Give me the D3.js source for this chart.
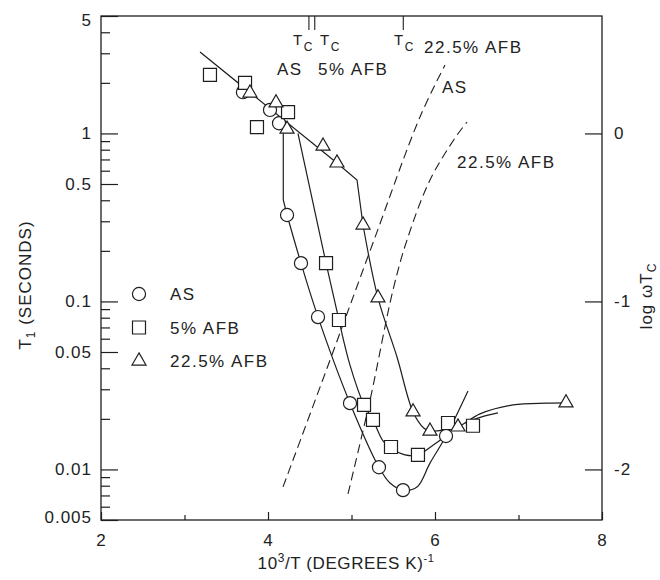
<!DOCTYPE html>
<html>
<head>
<meta charset="utf-8">
<script src="https://cdn.jsdelivr.net/npm/d3@7"></script>
<style>
  body { margin: 0; background: #fff; }
  svg text { font-family: "Liberation Sans", Arial, sans-serif; fill: #222; }
</style>
</head>
<body>
<svg id="chart"></svg>
<script>
// data: [10^3/T, T1 seconds]
const asPoints = [[3.70, 1.76], [4.024, 1.38], [4.132, 1.15], [4.228, 0.327], [4.395, 0.169],
  [4.599, 0.0807], [4.982, 0.0248], [5.329, 0.0103], [5.617, 0.00753], [6.132, 0.0158]]
const afb5Points = [[3.305, 2.23], [3.725, 2.0], [3.868, 1.09], [4.24, 1.34], [4.695, 0.169],
  [4.85, 0.0775], [5.15, 0.0242], [5.257, 0.0197], [5.473, 0.0136], [5.796, 0.0122],
  [6.156, 0.0189], [6.455, 0.0182]]
const afb22Points = [[3.784, 1.74], [4.096, 1.52], [4.228, 1.06], [4.659, 0.841], [4.826, 0.667],
  [5.138, 0.285], [5.317, 0.105], [5.737, 0.022], [5.94, 0.0169], [6.275, 0.0179], [7.569, 0.0249]]

// drawn curves through the points
const asLineUpper = [[4.183, 1.077], [4.183, 0.402], [4.228, 0.327]]
const asLineLower = [[4.228, 0.327], [4.395, 0.169], [4.599, 0.0807], [4.982, 0.0248], [5.329, 0.0103],
  [5.461, 0.0083], [5.617, 0.00753], [5.784, 0.00786], [5.94, 0.0109], [6.132, 0.0158], [6.395, 0.0293]]
const afb5LineUpper = [[4.359, 1.0], [4.695, 0.169], [4.85, 0.0775]]
const afb5LineLower = [[4.85, 0.0775], [4.982, 0.0418], [5.15, 0.0242], [5.257, 0.0197], [5.377, 0.0148],
  [5.473, 0.0134], [5.641, 0.0122], [5.796, 0.0122], [5.964, 0.0138], [6.132, 0.0158]]
const afb5Tail = [[6.359, 0.0189], [6.55, 0.0205], [6.754, 0.0217]]
const afb22LineUpper = [[3.186, 3.05], [4.826, 0.667], [5.066, 0.528], [5.138, 0.285]]
const afb22LineLower = [[5.138, 0.285], [5.317, 0.105], [5.545, 0.0467], [5.737, 0.022], [5.868, 0.0176],
  [5.94, 0.0169], [6.12, 0.0172], [6.275, 0.0179], [6.539, 0.0214], [6.934, 0.0242], [7.341, 0.0248],
  [7.569, 0.0249]]

// dashed log(omega tau_c) curves: [10^3/T, log wTc]
const asDashed = [[4.18, -2.104], [4.743, -1.349], [5.257, -0.652], [5.82, 0.098], [6.12, 0.407]]
const afb22Dashed = [[4.958, -2.146], [5.222, -1.587], [5.497, -0.932], [5.665, -0.634], [5.94, -0.277],
  [6.24, -0.027], [6.383, 0.068]]

const tcValues = [4.49, 4.56, 5.62]
const xTickValues = [2, 3, 4, 5, 6, 7, 8]
const xTickLabels = [2, 4, 6, 8]
const yTickLabels = [0.005, 0.01, 0.05, 0.1, 0.5, 1, 5]
const rTickValues = [0, -1, -2]

const dimensions = {
  width: 660,
  height: 580,
  margin: { top: 16, bottom: 60, right: 58, left: 101 },
}
dimensions.boundedWidth = dimensions.width - dimensions.margin.left - dimensions.margin.right
dimensions.boundedHeight = dimensions.height - dimensions.margin.top - dimensions.margin.bottom

const wrapper = d3.select("#chart")
  .attr("width", dimensions.width)
  .attr("height", dimensions.height)

const bounds = wrapper.append("g")
  .attr("transform", `translate(${dimensions.margin.left},${dimensions.margin.top})`)

const xScale = d3.scaleLinear().domain([2, 8]).range([0, dimensions.boundedWidth])
const yScale = d3.scaleLog().domain([0.005, 5]).range([dimensions.boundedHeight, 0])
const rScale = d3.scaleLinear().domain([Math.log10(0.005), Math.log10(5)]).range([dimensions.boundedHeight, 0])

const ink = "#1e1e1e"
const fontSize = 17

// frame
bounds.append("rect")
  .attr("width", dimensions.boundedWidth)
  .attr("height", dimensions.boundedHeight)
  .attr("fill", "none")
  .attr("stroke", ink)
  .attr("stroke-width", 1.3)

// axes
const styleAxis = (g) => {
  g.select(".domain").remove()
  g.selectAll(".tick line").attr("stroke", ink).attr("stroke-width", 1.2)
  g.selectAll(".tick text")
    .attr("font-size", fontSize)
    .attr("letter-spacing", 1)
    .attr("fill", "#222")
}

const isLong = (d) => {
  const lead = Math.round(d / Math.pow(10, Math.floor(Math.log10(d) + 1e-9)))
  return lead === 1 || lead === 5
}

const yAxis = bounds.append("g")
  .call(d3.axisLeft(yScale)
    .tickValues(yScale.ticks())
    .tickSizeInner(-9)
    .tickSizeOuter(0)
    .tickPadding(9)
    .tickFormat((d) => (yTickLabels.some((v) => Math.abs(v - d) < 1e-9) ? String(d) : "")))
  .call(styleAxis)
yAxis.selectAll(".tick line").attr("x2", (d) => (isLong(d) ? 17 : 9))
// end labels sit slightly inside the frame, as in the figure
yAxis.selectAll(".tick text").attr("y", (d) => (d === 5 ? 4 : d === 0.005 ? -3 : 0))

const xAxis = bounds.append("g")
  .attr("transform", `translate(0,${dimensions.boundedHeight})`)
  .call(d3.axisBottom(xScale)
    .tickValues(xTickValues)
    .tickSizeInner(-8)
    .tickSizeOuter(0)
    .tickPadding(14)
    .tickFormat((d) => (xTickLabels.includes(d) ? String(d) : "")))
  .call(styleAxis)
xAxis.selectAll(".tick line").attr("y2", (d) => (xTickLabels.includes(d) ? -8 : -5))

bounds.append("g")
  .attr("transform", `translate(${dimensions.boundedWidth},0)`)
  .call(d3.axisRight(rScale)
    .tickValues(rTickValues)
    .tickSizeInner(-17)
    .tickSizeOuter(0)
    .tickPadding(12)
    .tickFormat((d) => (d === 0 ? "0" : "-" + Math.abs(d))))
  .call(styleAxis)

// Tc marks on top edge
bounds.selectAll(".tc")
  .data(tcValues)
  .join("line")
  .attr("x1", (d) => xScale(d))
  .attr("x2", (d) => xScale(d))
  .attr("y1", 0)
  .attr("y2", 14)
  .attr("stroke", ink)
  .attr("stroke-width", 1.1)

// curves
const lineGen = (curve, yS = yScale) => d3.line()
  .x((d) => xScale(d[0]))
  .y((d) => yS(d[1]))
  .curve(curve)

const solid = [
  [asLineUpper, d3.curveLinear], [asLineLower, d3.curveCatmullRom],
  [afb5LineUpper, d3.curveLinear], [afb5LineLower, d3.curveCatmullRom], [afb5Tail, d3.curveCatmullRom],
  [afb22LineUpper, d3.curveLinear], [afb22LineLower, d3.curveCatmullRom],
]
solid.forEach(([data, curve]) => {
  bounds.append("path")
    .attr("d", lineGen(curve)(data))
    .attr("fill", "none")
    .attr("stroke", ink)
    .attr("stroke-width", 1.2)
})

;[asDashed, afb22Dashed].forEach((data) => {
  bounds.append("path")
    .attr("d", lineGen(d3.curveCatmullRom, rScale)(data))
    .attr("fill", "none")
    .attr("stroke", ink)
    .attr("stroke-width", 1.1)
    .attr("stroke-dasharray", "9,5")
})

// markers
const symbols = [
  { data: asPoints, type: d3.symbolCircle, size: 135 },
  { data: afb5Points, type: d3.symbolSquare, size: 169 },
  { data: afb22Points, type: d3.symbolTriangle, size: 85 },
]
symbols.forEach(({ data, type, size }) => {
  bounds.selectAll(null)
    .data(data)
    .join("path")
    .attr("d", d3.symbol(type, size))
    .attr("transform", (d) => `translate(${xScale(d[0])},${yScale(d[1])})`)
    .attr("fill", "#fff")
    .attr("stroke", ink)
    .attr("stroke-width", 1.2)
})

// legend
const legend = wrapper.append("g")
const legendItems = [
  { label: "AS", type: d3.symbolCircle, size: 135 },
  { label: "5% AFB", type: d3.symbolSquare, size: 169 },
  { label: "22.5% AFB", type: d3.symbolTriangle, size: 85 },
]
legendItems.forEach((item, i) => {
  const y = 294 + i * 33.5
  legend.append("path")
    .attr("d", d3.symbol(item.type, item.size))
    .attr("transform", `translate(139,${y})`)
    .attr("fill", "#fff")
    .attr("stroke", ink)
    .attr("stroke-width", 1.2)
  legend.append("text")
    .attr("x", 170)
    .attr("y", y + 6)
    .attr("font-size", fontSize)
    .attr("letter-spacing", 1.5)
    .text(item.label)
})

// annotations
const note = (x, y, parts) => {
  const t = wrapper.append("text").attr("x", x).attr("y", y).attr("font-size", fontSize).attr("letter-spacing", 1.5)
  parts.forEach((p) => {
    t.append("tspan").attr("dy", p.dy || 0).attr("font-size", p.size || fontSize).text(p.text)
  })
  return t
}
note(293, 45, [{ text: "T", size: 15 }, { text: "C", size: 12, dy: 6 }])
note(320, 45, [{ text: "T", size: 15 }, { text: "C", size: 12, dy: 6 }])
note(394, 45, [{ text: "T", size: 15 }, { text: "C", size: 12, dy: 6 }])
note(424, 53, [{ text: "22.5% AFB" }])
note(277, 75, [{ text: "AS" }])
note(318, 75, [{ text: "5% AFB" }])
note(442, 93, [{ text: "AS" }])
note(457, 168, [{ text: "22.5% AFB" }])

// axis titles
wrapper.append("text")
  .attr("text-anchor", "middle")
  .attr("x", 346)
  .attr("y", 569)
  .attr("font-size", fontSize)
  .attr("letter-spacing", 0.6)
  .call((t) => {
    t.append("tspan").text("10")
    t.append("tspan").attr("dy", -7).attr("font-size", 12).text("3")
    t.append("tspan").attr("dy", 7).text("/T (DEGREES K)")
    t.append("tspan").attr("dy", -7).attr("font-size", 11).text("-1")
  })

wrapper.append("text")
  .attr("text-anchor", "middle")
  .attr("transform", "translate(31,285) rotate(-90)")
  .attr("font-size", fontSize)
  .attr("letter-spacing", 1)
  .call((t) => {
    t.append("tspan").text("T")
    t.append("tspan").attr("dy", 4).attr("font-size", 12).text("1")
    t.append("tspan").attr("dy", -4).text(" (SECONDS)")
  })

wrapper.append("text")
  .attr("text-anchor", "middle")
  .attr("transform", "translate(652,296) rotate(-90)")
  .attr("font-size", fontSize)
  .attr("letter-spacing", 1)
  .call((t) => {
    t.append("tspan").text("log ωT")
    t.append("tspan").attr("dy", 4).attr("font-size", 12).text("C")
  })
</script>
</body>
</html>
